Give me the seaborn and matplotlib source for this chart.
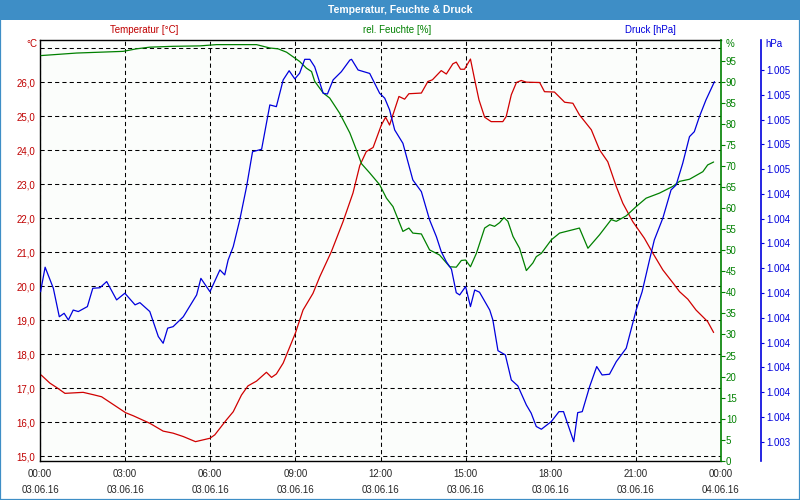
"""
Weather station day plot - temperature, humidity and pressure
on three y axes for 03.06.16.
"""
import matplotlib
matplotlib.use("Agg")
import matplotlib.pyplot as plt
from matplotlib.patches import Rectangle
import seaborn as sns

sns.set_style("white")
plt.rcParams["font.family"] = ["Liberation Sans", "DejaVu Sans"]

RED = "#D00000"
GREEN = "#008000"
BLUE = "#0000DD"
BAR = "#3E8EC6"

# ---------------------------------------------------------
# DATA (hours since 03.06.16 00:00)
# ---------------------------------------------------------
temp_hours = [0.04, 0.35, 0.59, 0.88, 1.52, 1.88, 2.17, 3.02, 3.29, 3.87, 4.34, 4.69,
              5.05, 5.48, 5.99, 6.16, 6.57, 6.81, 7.10, 7.33, 7.63, 7.98, 8.16, 8.33,
              8.57, 9.00, 9.27, 9.62, 9.86, 10.27, 10.68, 11.03, 11.27, 11.50, 11.74,
              12.03, 12.18, 12.32, 12.65, 12.85, 13.00, 13.44, 13.67, 13.83, 14.14,
              14.32, 14.55, 14.67, 14.82, 14.96, 15.17, 15.32, 15.47, 15.67, 15.90,
              16.31, 16.43, 16.61, 16.79, 16.96, 17.14, 17.61, 17.78, 18.13, 18.49,
              18.78, 19.01, 19.43, 19.72, 20.01, 20.31, 20.54, 20.89, 21.30, 21.60,
              21.95, 22.36, 22.54, 22.83, 23.12, 23.53, 23.74]
temp_values = [17.39, 17.15, 17.02, 16.85, 16.88, 16.81, 16.75, 16.28, 16.19, 15.97, 15.74, 15.68,
               15.58, 15.43, 15.53, 15.63, 16.07, 16.31, 16.80, 17.07, 17.21, 17.47, 17.32, 17.42,
               17.74, 18.62, 19.30, 19.79, 20.28, 21.02, 21.90, 22.74, 23.55, 23.96, 24.08,
               24.74, 24.97, 24.74, 25.58, 25.50, 25.66, 25.68, 26.02, 26.07, 26.34,
               26.24, 26.54, 26.59, 26.38, 26.38, 26.68, 26.07, 25.48, 24.97, 24.84,
               24.84, 24.99, 25.63, 25.99, 26.05, 26.00, 25.99, 25.72, 25.71, 25.41,
               25.38, 25.04, 24.60, 24.01, 23.66, 22.93, 22.44, 21.90, 21.41, 20.97,
               20.48, 20.04, 19.84, 19.62, 19.30, 18.96, 18.64]

hum_hours = [0.04, 1.29, 2.93, 3.40, 3.87, 4.69, 5.63, 6.22, 7.63, 8.10, 8.39, 8.69,
             8.92, 9.15, 9.39, 9.57, 9.68, 9.98, 10.21, 10.56, 10.92, 11.15, 11.33,
             11.62, 11.97, 12.21, 12.44, 12.79, 13.00, 13.14, 13.44, 13.73, 14.08,
             14.44, 14.67, 14.85, 15.00, 15.17, 15.38, 15.67, 15.85, 16.02, 16.20,
             16.35, 16.49, 16.67, 16.90, 17.14, 17.37, 17.49, 17.67, 18.02, 18.31,
             18.78, 19.01, 19.31, 19.72, 20.13, 20.31, 20.66, 21.01, 21.36, 21.83,
             22.30, 22.54, 22.89, 23.36, 23.53, 23.74]
hum_values = [96.3, 96.9, 97.3, 97.9, 98.3, 98.5, 98.6, 98.9, 98.9, 98.1, 97.9, 97.1,
              96.0, 94.9, 93.3, 92.5, 90.2, 87.4, 86.2, 82.6, 77.9, 73.9, 70.6,
              68.4, 65.6, 62.4, 60.4, 54.5, 55.3, 54.1, 53.9, 50.1, 48.9,
              46.1, 46.0, 47.6, 47.7, 46.1, 49.3, 55.3, 56.1, 55.7, 56.6,
              57.8, 56.9, 53.3, 50.5, 45.2, 47.0, 48.5, 49.3, 52.5, 54.1,
              54.9, 55.3, 50.5, 53.7, 57.3, 56.9, 58.2, 60.4, 62.4, 63.6,
              65.2, 66.4, 66.9, 68.7, 70.3, 71.0]

press_hours = [0.02, 0.18, 0.47, 0.68, 0.85, 1.00, 1.17, 1.35, 1.67, 1.86, 2.11, 2.35,
               2.70, 2.99, 3.35, 3.52, 3.87, 4.17, 4.34, 4.50, 4.69, 5.05, 5.52, 5.67,
               5.99, 6.34, 6.51, 6.63, 6.81, 7.04, 7.28, 7.49, 7.81, 8.10, 8.33, 8.57,
               8.78, 8.98, 9.15, 9.33, 9.51, 9.68, 9.98, 10.13, 10.33, 10.62, 10.92,
               10.98, 11.21, 11.62, 11.97, 12.15, 12.32, 12.50, 12.79, 13.14, 13.44,
               13.73, 13.97, 14.14, 14.32, 14.50, 14.67, 14.79, 15.00, 15.17, 15.32,
               15.49, 15.85, 15.96, 16.14, 16.40, 16.61, 16.84, 17.14, 17.31, 17.49,
               17.67, 18.02, 18.29, 18.45, 18.81, 18.95, 19.11, 19.37, 19.62, 19.81,
               20.07, 20.31, 20.66, 21.01, 21.22, 21.48, 21.65, 21.95, 22.24, 22.42,
               22.65, 22.89, 23.06, 23.24, 23.47, 23.77]
press_values = [1004.005, 1004.104, 1004.019, 1003.904, 1003.918, 1003.891, 1003.931, 1003.925,
                1003.945, 1004.019, 1004.021, 1004.046, 1003.972, 1003.999, 1003.952, 1003.961,
                1003.925, 1003.824, 1003.797, 1003.858, 1003.864, 1003.904, 1003.992, 1004.059,
                1004.005, 1004.093, 1004.073, 1004.133, 1004.187, 1004.295, 1004.429, 1004.570,
                1004.580, 1004.759, 1004.752, 1004.860, 1004.897, 1004.864, 1004.887, 1004.943,
                1004.943, 1004.913, 1004.806, 1004.803, 1004.860, 1004.893, 1004.940, 1004.943,
                1004.900, 1004.886, 1004.806, 1004.786, 1004.739, 1004.658, 1004.604, 1004.456,
                1004.409, 1004.295, 1004.227, 1004.167, 1004.126, 1004.096, 1004.001, 1003.992,
                1004.026, 1003.945, 1004.012, 1004.003, 1003.931, 1003.891, 1003.767, 1003.750,
                1003.649, 1003.625, 1003.548, 1003.515, 1003.461, 1003.450, 1003.481, 1003.521,
                1003.521, 1003.400, 1003.517, 1003.521, 1003.622, 1003.703, 1003.669, 1003.672,
                1003.723, 1003.777, 1003.931, 1004.005, 1004.133, 1004.214, 1004.302, 1004.416,
                1004.436, 1004.523, 1004.631, 1004.651, 1004.712, 1004.779, 1004.853]

x_ticks = [0, 3, 6, 9, 12, 15, 18, 21, 24]
x_tick_labels = ["00:00\n03.06.16", "03:00\n03.06.16", "06:00\n03.06.16",
                 "09:00\n03.06.16", "12:00\n03.06.16", "15:00\n03.06.16",
                 "18:00\n03.06.16", "21:00\n03.06.16", "00:00\n04.06.16"]
temp_ticks = [15, 16, 17, 18, 19, 20, 21, 22, 23, 24, 25, 26, 27]
temp_tick_labels = ["15,0", "16,0", "17,0", "18,0", "19,0", "20,0", "21,0",
                    "22,0", "23,0", "24,0", "25,0", "26,0", ""]
hum_ticks = [0, 5, 10, 15, 20, 25, 30, 35, 40, 45, 50, 55, 60, 65, 70, 75, 80, 85, 90, 95]
press_ticks = [1003.4, 1003.5, 1003.6, 1003.7, 1003.8, 1003.9, 1004.0, 1004.1,
               1004.2, 1004.3, 1004.4, 1004.5, 1004.6, 1004.7, 1004.8, 1004.9]
press_tick_labels = ["1.003", "1.004", "1.004", "1.004", "1.004", "1.004", "1.004", "1.004",
                     "1.004", "1.004", "1.004", "1.005", "1.005", "1.005", "1.005", "1.005"]

# ---------------------------------------------------------
# FIGURE
# ---------------------------------------------------------
W, H = 800, 500
fig = plt.figure(figsize=(8, 5), dpi=100)
fig.patch.set_facecolor("white")

ax = fig.add_axes([40 / W, 1 - 460.7 / H, 681 / W, 420.7 / H])
ax.set_facecolor("#FBFDFB")
ax2 = ax.twinx()
ax3 = ax.twinx()
# move the pressure spine first: set_position resets the tick objects
ax3.spines["right"].set_position(("axes", (761 - 40) / 681))

sns.lineplot(x=temp_hours, y=temp_values, ax=ax, color=RED, lw=0.9,
             sort=False, estimator=None)
sns.lineplot(x=hum_hours, y=hum_values, ax=ax2, color=GREEN, lw=0.9,
             sort=False, estimator=None)
sns.lineplot(x=press_hours, y=press_values, ax=ax3, color=BLUE, lw=0.9,
             sort=False, estimator=None)

# x axis
ax.set_xlim(0, 24)
ax.set_xticks(x_ticks)
ax.set_xticklabels(x_tick_labels, fontsize=7, linespacing=1.75)
ax.set_xticks(range(0, 25), minor=True)
ax.tick_params(axis="x", which="both", direction="out", length=3, width=0.8,
               color="black", pad=3)

# temperature (left)
ax.set_ylim(14.87, 27.24)
ax.set_yticks(temp_ticks)
ax.set_yticklabels(temp_tick_labels, fontsize=7, color="#C00000")
ax.tick_params(axis="y", length=0, pad=3.5)
ax.grid(True, color="black", lw=0.75, linestyle=(0, (4, 3)))
for s in ["left", "bottom", "top"]:
    ax.spines[s].set_color("black")
    ax.spines[s].set_linewidth(1)
ax.spines["right"].set_visible(False)

# humidity (right)
ax2.set_ylim(0, 100)
ax2.set_yticks(hum_ticks)
ax2.set_yticklabels([str(v) for v in hum_ticks], fontsize=7, color=GREEN)
ax2.tick_params(axis="y", length=3, width=0.8, color=GREEN, pad=0.5)
for s in ["left", "bottom", "top"]:
    ax2.spines[s].set_visible(False)
ax2.spines["right"].set_color(GREEN)
ax2.spines["right"].set_linewidth(1.2)
ax2.set_ylabel("")

# pressure (far right)
ax3.set_ylim(1003.323, 1005.021)
ax3.set_yticks(press_ticks)
ax3.set_yticklabels(press_tick_labels, fontsize=7, color=BLUE)
ax3.tick_params(axis="y", length=2.5, width=0.8, color=BLUE, pad=1)
for s in ["left", "bottom", "top"]:
    ax3.spines[s].set_visible(False)
ax3.spines["right"].set_color(BLUE)
ax3.spines["right"].set_linewidth(1.2)
ax3.set_ylabel("")
ax.set_ylabel("")
ax.set_xlabel("")

# unit labels
fig.text(37 / W, 1 - 44 / H, "°C", color="#C00000", fontsize=7, ha="right", va="center")
fig.text(726 / W, 1 - 44 / H, "%", color=GREEN, fontsize=7, ha="left", va="center")
fig.text(765 / W, 1 - 44 / H, "hPa", color=BLUE, fontsize=7, ha="left", va="center")

# series names row
fig.text(144 / W, 1 - 30 / H, "Temperatur [°C]", color="#C00000", fontsize=7, ha="center", va="center")
fig.text(397 / W, 1 - 30 / H, "rel. Feuchte [%]", color=GREEN, fontsize=7, ha="center", va="center")
fig.text(650 / W, 1 - 30 / H, "Druck [hPa]", color=BLUE, fontsize=7, ha="center", va="center")

# title bar and frame
fig.add_artist(Rectangle((0, 1 - 20 / H), 1, 20 / H, transform=fig.transFigure,
                         facecolor=BAR, edgecolor="none", zorder=0))
fig.add_artist(Rectangle((0, 0), 1, 1, transform=fig.transFigure, fill=False,
                         edgecolor=BAR, lw=1.6))
fig.text(0.5, 1 - 10 / H, "Temperatur, Feuchte & Druck", color="white",
         fontsize=7.5, fontweight="bold", ha="center", va="center")

fig.savefig("out.png", dpi=100)
